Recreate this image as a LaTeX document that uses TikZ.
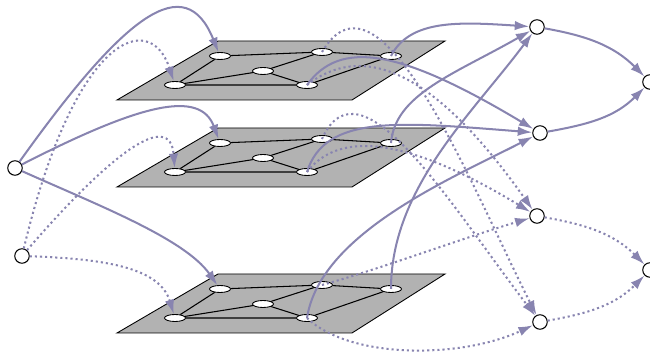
\documentclass[tikz,border=0pt]{standalone}
\usepackage[usenames,dvipsnames]{xcolor}
\usepackage{tikz}
\usetikzlibrary{shapes.geometric,arrows.meta}
\definecolor{linkcol}{RGB}{136,132,176}

\begin{document}
\begin{tikzpicture}[x=0.02cm, y=0.02cm,
    plane/.style={fill=gray!60, draw=black, line width=0.5pt},
    vert/.style={draw, ellipse, fill=white, minimum width=4.2mm, minimum height=1.4mm, inner sep=0pt, line width=0.5pt},
    unit/.style={draw, circle, fill=white, minimum size=2.9mm, inner sep=0pt, line width=0.6pt},
    link/.style={color=linkcol, line width=1.15pt, -{Latex[length=2.9mm,width=1.9mm]}},
    dotlink/.style={link, dash pattern=on 1.2pt off 1.7pt}]
  \useasboundingbox (0, 0) rectangle (650, 354);
  % the three layers, each with the same small graph
  \foreach \p/\dy in {1/0, 2/-87, 3/-233} {
    \begin{scope}[shift={(0, \dy)}]
      \draw[plane] (117, 254) -- (352, 254) -- (445, 313) -- (218, 313) -- cycle;
      \node[vert] (a\p) at (220, 298) {};
      \node[vert] (b\p) at (322, 302) {};
      \node[vert] (c\p) at (391, 298) {};
      \node[vert] (d\p) at (263, 283) {};
      \node[vert] (e\p) at (175, 269) {};
      \node[vert] (f\p) at (307, 269) {};
      \draw[line width=0.6pt]
          (a\p) -- (b\p) -- (c\p) -- (f\p) -- (e\p) -- (a\p)
          (e\p) -- (d\p) -- (b\p)
          (d\p) -- (f\p);
    \end{scope}
  }
  % outer units
  \node[unit] (s1) at (15, 186)  {};
  \node[unit] (s2) at (22, 98)   {};
  \node[unit] (r1) at (537, 327) {};
  \node[unit] (r2) at (540, 221) {};
  \node[unit] (r3) at (537, 138) {};
  \node[unit] (r4) at (540, 32)  {};
  \node[unit] (t1) at (650, 272) {};
  \node[unit] (t2) at (650, 84)  {};
  % inputs into the layers
  \draw[link]    (s1) .. controls (125, 340) and (185, 385) .. (a1);
  \draw[link]    (s1) .. controls (140, 250) and (200, 265) .. (a2);
  \draw[link]    (s1) .. controls (100, 148) and (185, 115) .. (a3);
  \draw[dotlink] (s2) .. controls (75, 320)  and (150, 345) .. (e1);
  \draw[dotlink] (s2) .. controls (110, 200) and (170, 245) .. (e2);
  \draw[dotlink] (s2) .. controls (110, 95)  and (160, 85)  .. (e3);
  % outputs of the layers
  \draw[link]    (c1.center) .. controls (410, 335) and (460, 332) .. (r1);
  \draw[link]    (c2.center) .. controls (395, 260) and (455, 280) .. (r1);
  \draw[link]    (c3.center) .. controls (391, 166) and (473, 241) .. (r1);
  \draw[link]    (f1.center) .. controls (340, 315) and (400, 305) .. (r2);
  \draw[link]    (f2.center) .. controls (325, 240) and (400, 232) .. (r2);
  \draw[link]    (f3.center) .. controls (320, 120) and (450, 175) .. (r2);
  \draw[dotlink] (f1.center) .. controls (360, 310) and (430, 290) .. (r3);
  \draw[dotlink] (f2.center) .. controls (340, 225) and (410, 215) .. (r3);
  \draw[dotlink] (b3.center) .. controls (380, 85)  and (460, 115) .. (r3);
  \draw[dotlink] (b1.center) .. controls (380, 400) and (470, 170) .. (r4);
  \draw[dotlink] (b2.center) .. controls (360, 300) and (450, 150) .. (r4);
  \draw[dotlink] (f3.center) .. controls (350, -5)  and (460, -5)  .. (r4);
  % last step
  \draw[link]    (r1) to[out=-10, in=135]  (t1);
  \draw[link]    (r2) to[out=10,  in=-135] (t1);
  \draw[dotlink] (r3) to[out=-10, in=135]  (t2);
  \draw[dotlink] (r4) to[out=10,  in=-135] (t2);
\end{tikzpicture}
\end{document}
